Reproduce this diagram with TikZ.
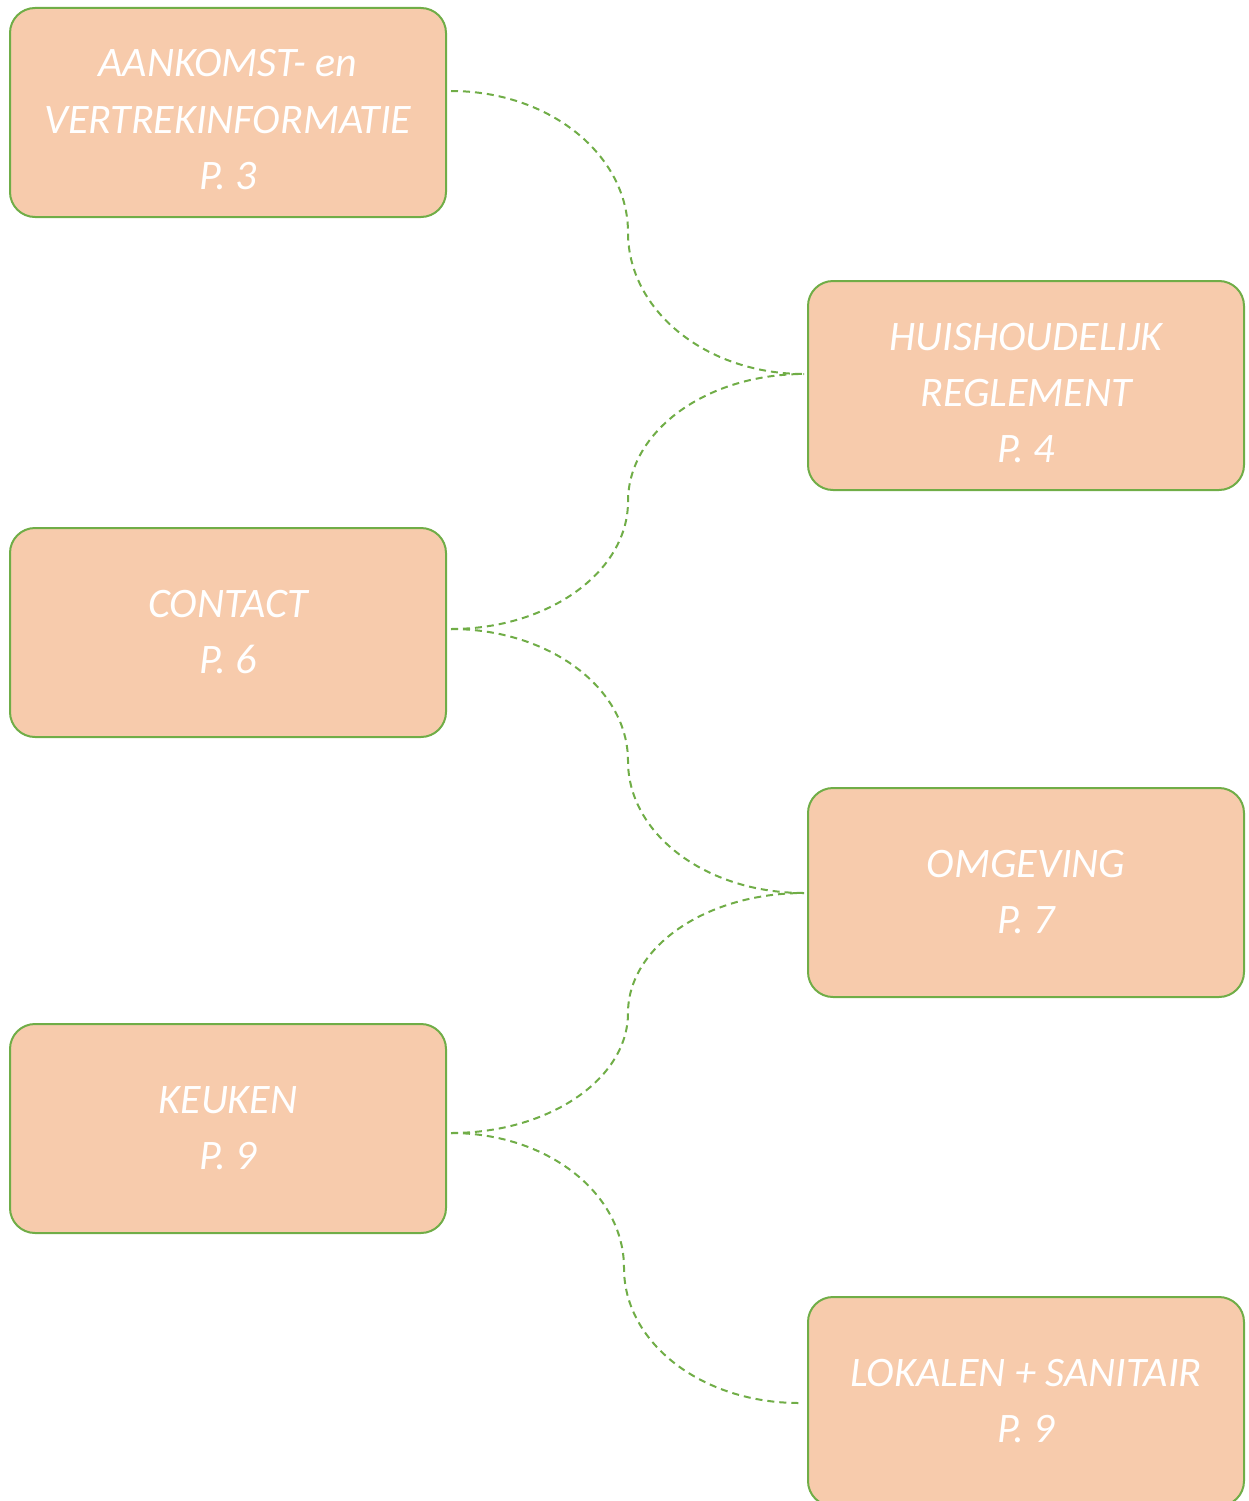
\documentclass[tikz,border=0pt]{standalone}
\usepackage{fontspec}
\setmainfont{Carlito}
\usetikzlibrary{calc}
\definecolor{boxfill}{HTML}{F7CBAC}
\definecolor{boxline}{HTML}{70AD47}
\begin{document}
\begin{tikzpicture}[x=1pt,y=-1pt,
  box/.style={draw=boxline, line width=2pt, fill=boxfill, rounded corners=25pt,
    minimum width=436pt, minimum height=209pt, align=center, text=white,
    font=\fontsize{42}{56}\selectfont\itshape, inner sep=0pt},
  threeline/.style={text height=153pt, text depth=0pt},
  conn/.style={draw=boxline, line width=2pt, dash pattern=on 7pt off 5pt}]
\useasboundingbox (0,0) rectangle (1248,1501);
\node[box,threeline] (b1) at (228,112.5) {AANKOMST- en\\VERTREKINFORMATIE\\P. 3};
\node[box,threeline] (b2) at (1026,385.5) {HUISHOUDELIJK\\REGLEMENT\\P. 4};
\node[box] (b3) at (228,632.5) {CONTACT\\P. 6};
\node[box] (b4) at (1026,892.5) {OMGEVING\\P. 7};
\node[box] (b5) at (228,1128.5) {KEUKEN\\P. 9};
\node[box] (b6) at (1026,1401.5) {LOKALEN + SANITAIR\\P. 9};
% connector end points
\coordinate (s1) at ($(b1.east)+(4,-21.5)$);
\coordinate (e2) at ($(b2.west)+(-3,-11.5)$);
\coordinate (s3) at ($(b3.east)+(4,-3.5)$);
\coordinate (e4) at ($(b4.west)+(-3,0.5)$);
\coordinate (s5) at ($(b5.east)+(4,4.5)$);
\coordinate (e6) at ($(b6.west)+(-8,1.5)$);
\coordinate (m1) at (628,232.5);
\coordinate (m2) at (628,501.5);
\coordinate (m3) at (628,761);
\coordinate (m4) at (628,1013);
\coordinate (m5) at (624,1268);
\draw[conn] (s1) .. controls +(98,0) and +(0,-78) .. (m1) .. controls +(0,78) and +(-98,0) .. (e2);
\draw[conn] (s3) .. controls +(98,0) and +(0,70) .. (m2) .. controls +(0,-70) and +(-98,0) .. (e2);
\draw[conn] (s3) .. controls +(98,0) and +(0,-73) .. (m3) .. controls +(0,73) and +(-98,0) .. (e4);
\draw[conn] (s5) .. controls +(98,0) and +(0,66) .. (m4) .. controls +(0,-66) and +(-98,0) .. (e4);
\draw[conn] (s5) .. controls +(96,0) and +(0,-75) .. (m5) .. controls +(0,75) and +(-97,0) .. (e6);
\end{tikzpicture}
\end{document}
